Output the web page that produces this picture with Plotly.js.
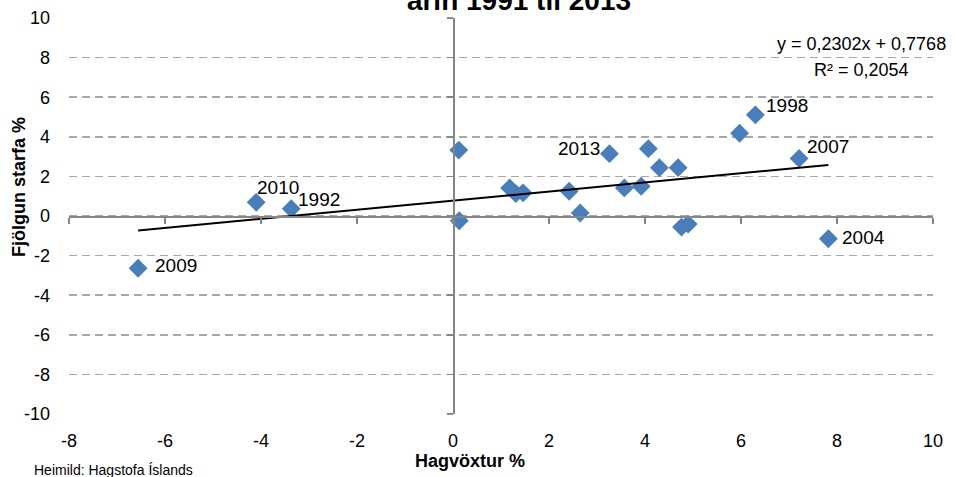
<!DOCTYPE html>
<html><head><meta charset="utf-8">
<script src="https://cdn.plot.ly/plotly-3.0.1.min.js"></script>
<style>html,body{margin:0;padding:0;background:#fff}#chart{width:955px;height:477px}</style>
</head><body><div id="chart"></div>
<script>
// ---- data ----
const growth = [-6.56, -4.10, -3.37, 0.12, 0.13, 1.18, 1.31, 1.46, 2.42, 2.65, 3.26, 3.57, 3.92, 4.07, 4.30, 4.69, 4.76, 4.90, 5.97, 6.30, 7.21, 7.82];
const jobs   = [-2.64, 0.69, 0.37, 3.33, -0.24, 1.42, 1.13, 1.17, 1.25, 0.15, 3.15, 1.42, 1.50, 3.40, 2.44, 2.44, -0.56, -0.41, 4.18, 5.11, 2.91, -1.15];
const yearLabels = ['2009','2010','1992','','','','','','','','2013','','','','','','','','','1998','2007','2004'];
const slope = 0.2302;
const intercept = 0.7768;
const rSquared = 0.2054;
const xTicks = [-8, -6, -4, -2, 0, 2, 4, 6, 8, 10];
const yTicks = [-10, -8, -6, -4, -2, 0, 2, 4, 6, 8, 10];
const titleText = 'árin 1991 til 2013';
const xTitle = 'Hagvöxtur %';
const yTitle = 'Fjölgun starfa %';
const sourceText = 'Heimild: Hagstofa Íslands';

// ---- styles ----
const FONT = '"Liberation Sans", Arial, sans-serif';
const labelStyle = { // pixel offsets for year labels
  '2009': {xs: 15, ys: 3, xa: 'left'},
  '2010': {xs: -1, ys: 15, xa: 'left'},
  '1992': {xs: 5, ys: 9, xa: 'left'},
  '2013': {xs: -7, ys: 5, xa: 'right'},
  '1998': {xs: 9, ys: 9, xa: 'left'},
  '2007': {xs: 6, ys: 12, xa: 'left'},
  '2004': {xs: 12, ys: 1, xa: 'left'}
};
const xr = [xTicks[0], xTicks[xTicks.length - 1]];
const yr = [yTicks[0], yTicks[yTicks.length - 1]];
const fmt = v => v.toFixed(4).replace('.', ',');

const xMin = Math.min(...growth), xMax = Math.max(...growth);
const trendX = [xMin, xMax];
const trendY = trendX.map(v => slope * v + intercept);

const traces = [
  {x: growth, y: jobs, type: 'scatter', mode: 'markers', xaxis: 'x', yaxis: 'y',
   marker: {symbol: 'diamond', size: 14.5, color: '#4a7ebb', line: {width: 0}},
   hoverinfo: 'x+y', showlegend: false},
  {x: trendX, y: trendY, type: 'scatter', mode: 'lines', xaxis: 'x2', yaxis: 'y2',
   line: {color: '#000', width: 2}, hoverinfo: 'skip', showlegend: false}
];

const annotations = [];
yearLabels.forEach((lab, i) => {
  if (!lab) return;
  const s = labelStyle[lab];
  annotations.push({x: growth[i], y: jobs[i], xref: 'x', yref: 'y', text: lab, showarrow: false,
    xanchor: s.xa, yanchor: 'middle', xshift: s.xs, yshift: s.ys, font: {family: FONT, size: 19, color: '#000'}});
});
annotations.push({x: 0.9167, y: 0.9343, xref: 'paper', yref: 'paper', showarrow: false,
  text: 'y = ' + fmt(slope) + 'x + ' + fmt(intercept), xanchor: 'center', yanchor: 'middle',
  font: {family: FONT, size: 18, color: '#000'}});
annotations.push({x: 0.9167, y: 0.8687, xref: 'paper', yref: 'paper', showarrow: false,
  text: 'R² = ' + fmt(rSquared), xanchor: 'center', yanchor: 'middle',
  font: {family: FONT, size: 18, color: '#000'}});
annotations.push({x: 0.4641, y: -0.1175, xref: 'paper', yref: 'paper', showarrow: false,
  text: '<b>' + xTitle + '</b>', xanchor: 'center', yanchor: 'middle',
  font: {family: FONT, size: 18, color: '#000'}});
annotations.push({x: -0.0573, y: 0.5745, xref: 'paper', yref: 'paper', showarrow: false, textangle: -90,
  text: '<b>' + yTitle + '</b>', xanchor: 'center', yanchor: 'middle',
  font: {family: FONT, size: 18, color: '#000'}});
annotations.push({x: -0.0432, y: -0.1414, xref: 'paper', yref: 'paper', showarrow: false,
  text: sourceText, xanchor: 'left', yanchor: 'middle',
  font: {family: FONT, size: 14, color: '#000'}});

const layout = {
  width: 955, height: 477,
  margin: {l: 69, r: 22, t: 18, b: 63, pad: 0},
  paper_bgcolor: '#fff', plot_bgcolor: '#fff',
  font: {family: FONT, size: 18, color: '#000'},
  title: {text: '<b>' + titleText + '</b>', font: {family: FONT, size: 28, color: '#000'},
          x: 0.5208, xref: 'paper', xanchor: 'center', y: 1, yref: 'container', yanchor: 'middle', pad: {t: 0, b: 0}},
  xaxis: {range: xr, tickvals: xTicks, ticktext: xTicks.map(String), showgrid: false, zeroline: false,
          showline: false, ticks: '', ticklabelstandoff: 14, tickfont: {family: FONT, size: 18, color: '#000'}, fixedrange: true},
  yaxis: {range: yr, tickvals: yTicks, ticktext: yTicks.map(String), showgrid: true, gridcolor: '#a8a8a8',
          gridwidth: 1.5, griddash: '8px,5px', zeroline: false, showline: false, ticks: '', ticklabelstandoff: 18,
          tickfont: {family: FONT, size: 18, color: '#000'}, fixedrange: true},
  xaxis2: {overlaying: 'x', anchor: 'free', position: (0 - yr[0]) / (yr[1] - yr[0]), range: xr, tickvals: xTicks,
           showticklabels: false, showgrid: false, zeroline: false, showline: true, linecolor: '#868686', linewidth: 1.5,
           ticks: 'outside', ticklen: 6, tickwidth: 1.5, tickcolor: '#868686', fixedrange: true},
  yaxis2: {overlaying: 'y', anchor: 'free', position: (0 - xr[0]) / (xr[1] - xr[0]), range: yr, tickvals: yTicks,
           showticklabels: false, showgrid: false, zeroline: false, showline: true, linecolor: '#868686', linewidth: 1.5,
           ticks: 'outside', ticklen: 6, tickwidth: 1.5, tickcolor: '#868686', fixedrange: true},
  annotations: annotations,
  showlegend: false
};
Plotly.newPlot('chart', traces, layout, {displayModeBar: false, staticPlot: true});
</script></body></html>
